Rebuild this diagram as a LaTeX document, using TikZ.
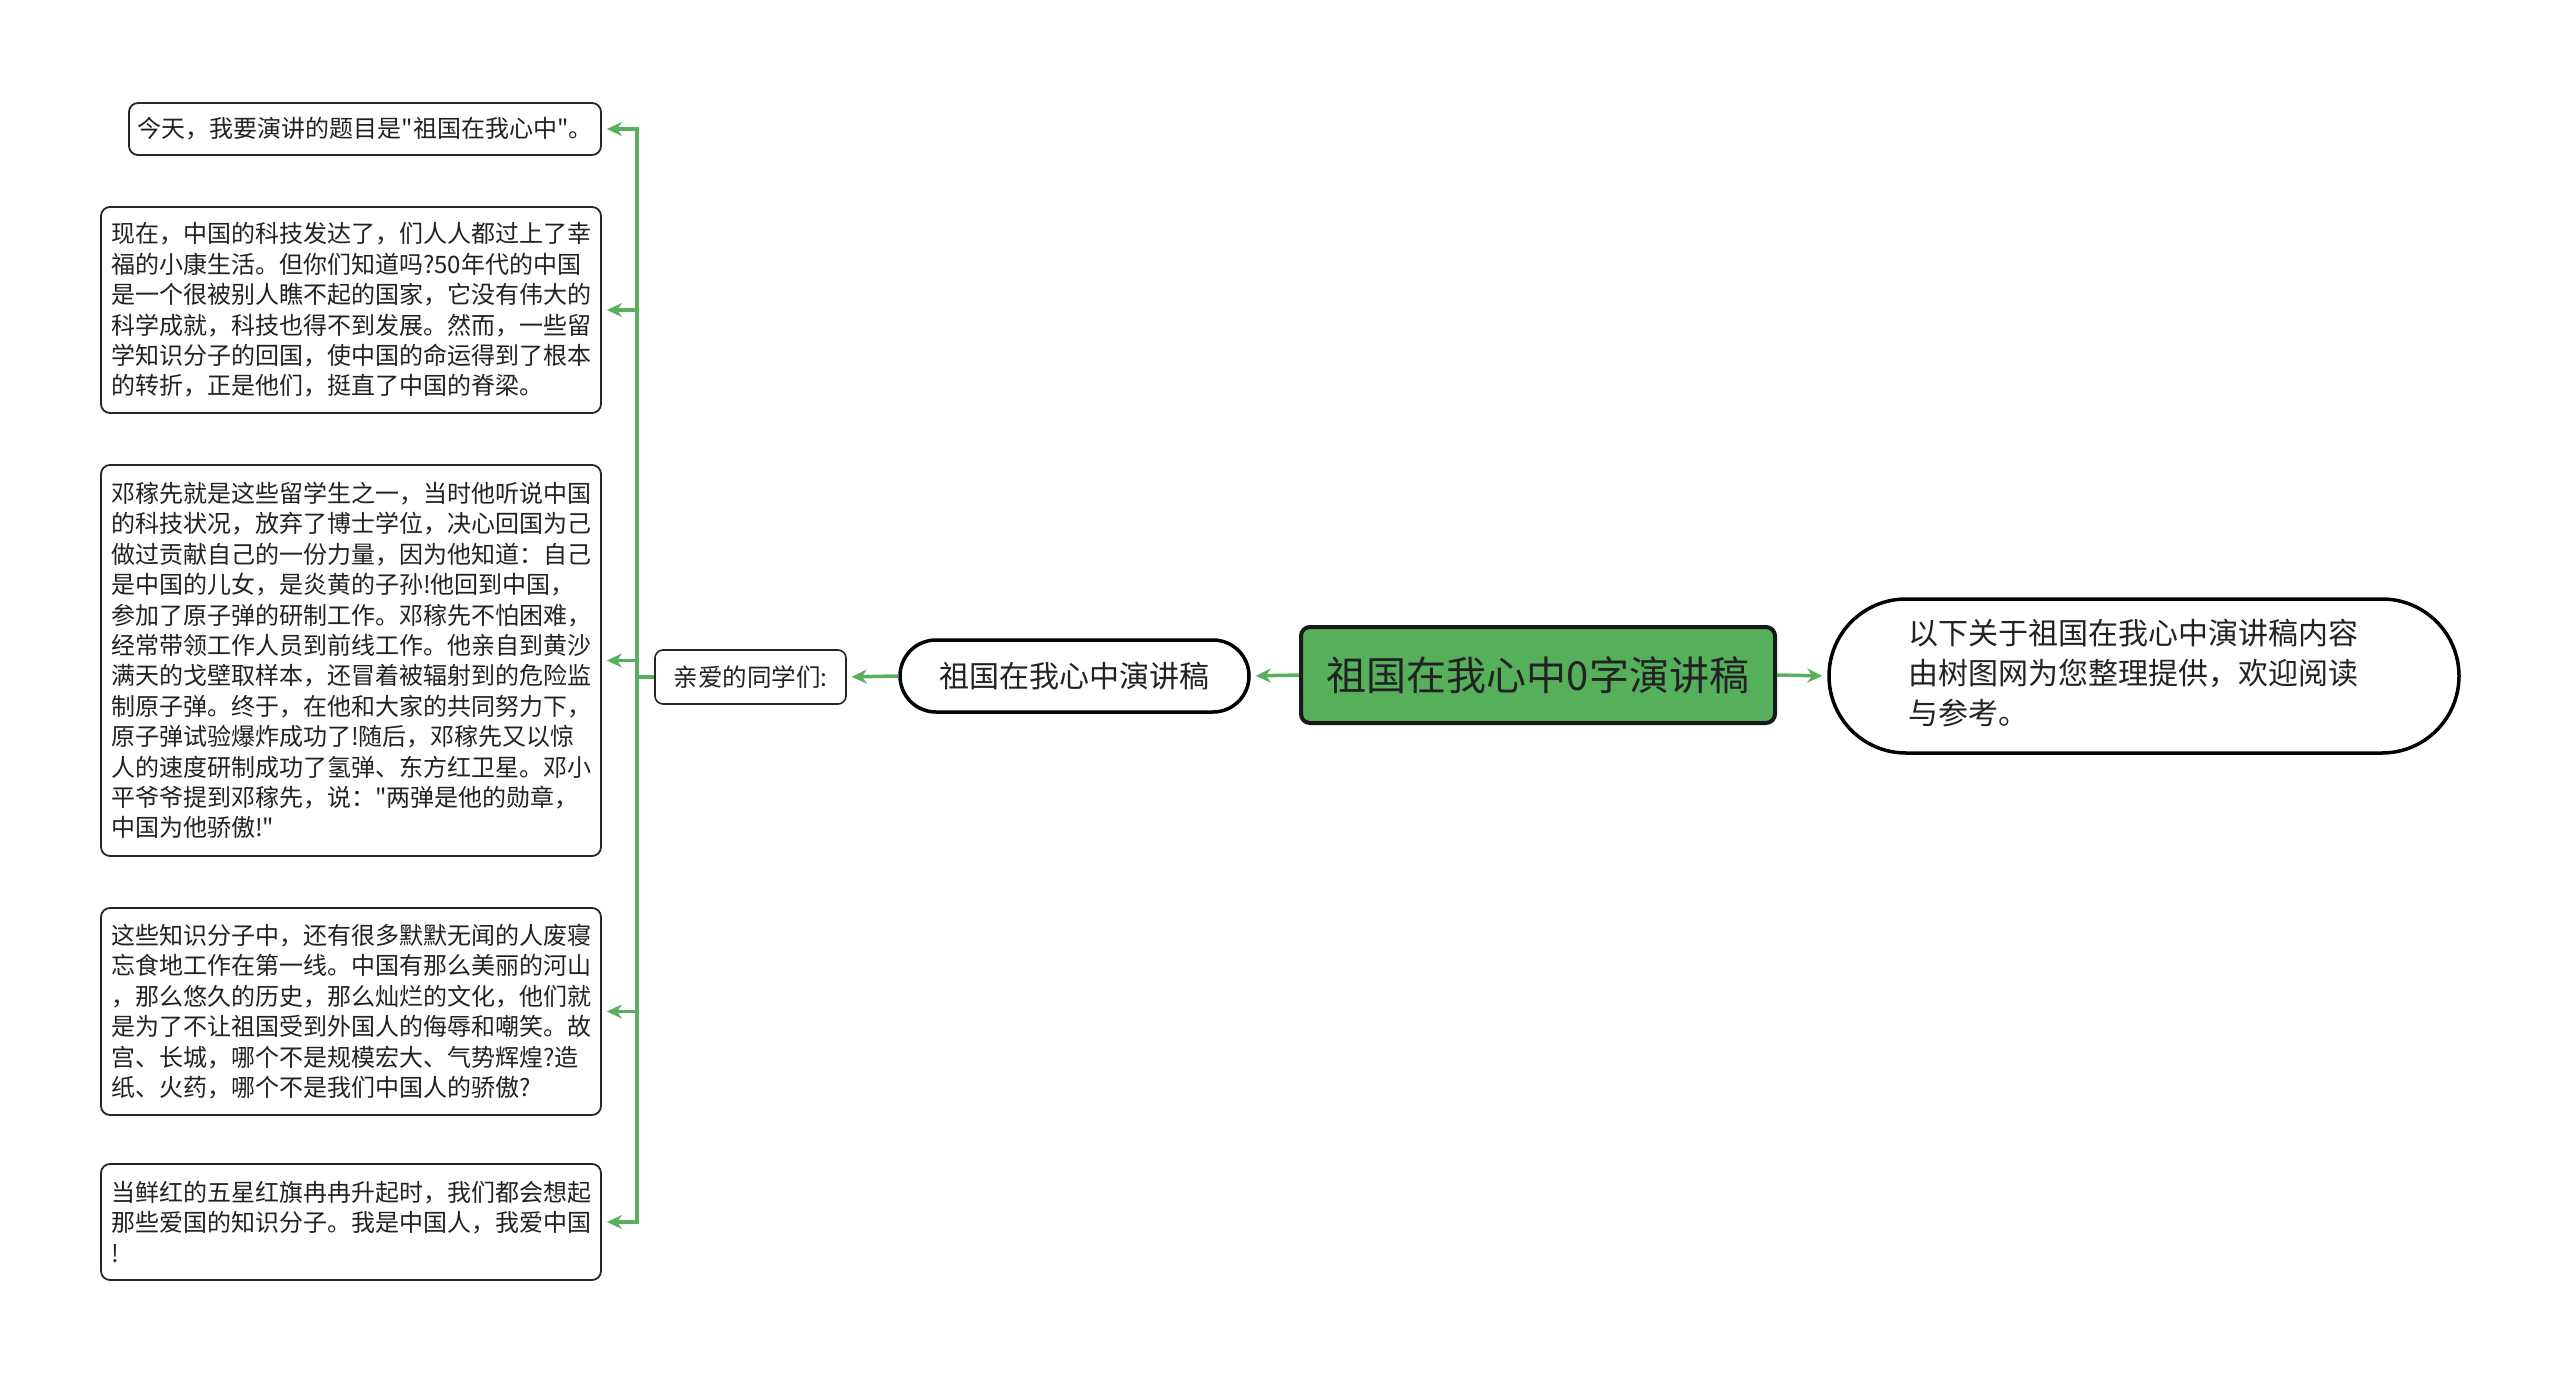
\documentclass[tikz,border=0pt]{standalone}
\usepackage{fontspec}
\setmainfont{Noto Sans CJK SC}
\newfontfamily\cjk{Noto Sans CJK SC}
\usetikzlibrary{arrows.meta}
\definecolor{lgreen}{HTML}{5AAF5E}
\definecolor{mgreen}{HTML}{56AF5B}
\definecolor{tgray}{HTML}{222222}
\tikzset{
  leaf/.style={draw=black!85, line width=1.8pt, rounded corners=9pt, fill=white, text=tgray,
    font=\cjk\fontsize{24}{30.4}\selectfont, align=left, inner sep=0pt, minimum width=500pt},
  mid/.style={draw=black!85, line width=1.6pt, rounded corners=8pt, fill=white, text=tgray,
    font=\cjk\fontsize{24.5}{29}\selectfont, inner sep=0pt, minimum width=191pt, minimum height=54pt},
  sub/.style={draw=black, line width=3.5pt, rounded corners=36pt, fill=white, text=tgray,
    font=\cjk\fontsize{30}{36}\selectfont, inner sep=0pt, minimum width=349pt, minimum height=72pt},
  root/.style={draw=black!90, line width=4pt, rounded corners=9pt, fill=mgreen, text=tgray,
    font=\cjk\fontsize{40}{48}\selectfont, inner sep=0pt, minimum width=474pt, minimum height=96pt},
  note/.style={draw=black, line width=3.5pt, rounded corners=77pt, fill=white, text=tgray,
    font=\cjk\fontsize{30}{40}\selectfont, align=left, inner sep=0pt, minimum width=630pt, minimum height=154pt},
  conn/.style={draw=lgreen, line width=3.5pt, -{Stealth[length=15pt,width=14pt]}, shorten >=5pt},
}
\begin{document}
\begin{tikzpicture}[x=1pt,y=-1pt]
\useasboundingbox (0,0) rectangle (2560,1383);

\node[root] (root) at (1538,675) {祖国在我心中0字演讲稿};
\node[sub] (sub) at (1074.5,676) {祖国在我心中演讲稿};
\node[mid] (q) at (750.5,677) {亲爱的同学们:};
\node[note] (note) at (2144,676) {\hspace*{-22pt}\begin{tabular}{@{}l@{}}以下关于祖国在我心中演讲稿内容\\由树图网为您整理提供，欢迎阅读\\与参考。\end{tabular}};

\node[leaf, minimum width=472pt, minimum height=52pt, align=center] (b1) at (365,129)
  {今天，我要演讲的题目是"祖国在我心中"。};
\node[leaf, minimum height=206pt, text width=480pt] (b2) at (351,310)
  {现在，中国的科技发达了，们人人都过上了幸\\福的小康生活。但你们知道吗?50年代的中国\\是一个很被别人瞧不起的国家，它没有伟大的\\科学成就，科技也得不到发展。然而，一些留\\学知识分子的回国，使中国的命运得到了根本\\的转折，正是他们，挺直了中国的脊梁。};
\node[leaf, minimum height=391pt, text width=480pt] (b3) at (351,660.5)
  {邓稼先就是这些留学生之一，当时他听说中国\\的科技状况，放弃了博士学位，决心回国为己\\做过贡献自己的一份力量，因为他知道：自己\\是中国的儿女，是炎黄的子孙!他回到中国，\\参加了原子弹的研制工作。邓稼先不怕困难，\\经常带领工作人员到前线工作。他亲自到黄沙\\满天的戈壁取样本，还冒着被辐射到的危险监\\制原子弹。终于，在他和大家的共同努力下，\\原子弹试验爆炸成功了!随后，邓稼先又以惊\\人的速度研制成功了氢弹、东方红卫星。邓小\\平爷爷提到邓稼先，说："两弹是他的勋章，\\中国为他骄傲!"};
\node[leaf, minimum height=207pt, text width=480pt] (b4) at (351,1011.5)
  {这些知识分子中，还有很多默默无闻的人废寝\\忘食地工作在第一线。中国有那么美丽的河山\\，那么悠久的历史，那么灿烂的文化，他们就\\是为了不让祖国受到外国人的侮辱和嘲笑。故\\宫、长城，哪个不是规模宏大、气势辉煌?造\\纸、火药，哪个不是我们中国人的骄傲?};
\node[leaf, minimum height=116pt, text width=480pt] (b5) at (351,1222)
  {当鲜红的五星红旗冉冉升起时，我们都会想起\\那些爱国的知识分子。我是中国人，我爱中国\\!};

\coordinate (bus) at (637,677);

\draw[conn] (root.west) -- (sub.east);
\draw[conn] (sub.west) -- (q.east);
\draw[conn] (root.east) -- (note.west);
\foreach \b in {b1,b2,b3,b4,b5}{
  \draw[conn] (q.west) -- (bus) |- (\b.east);
}
\end{tikzpicture}
\end{document}
